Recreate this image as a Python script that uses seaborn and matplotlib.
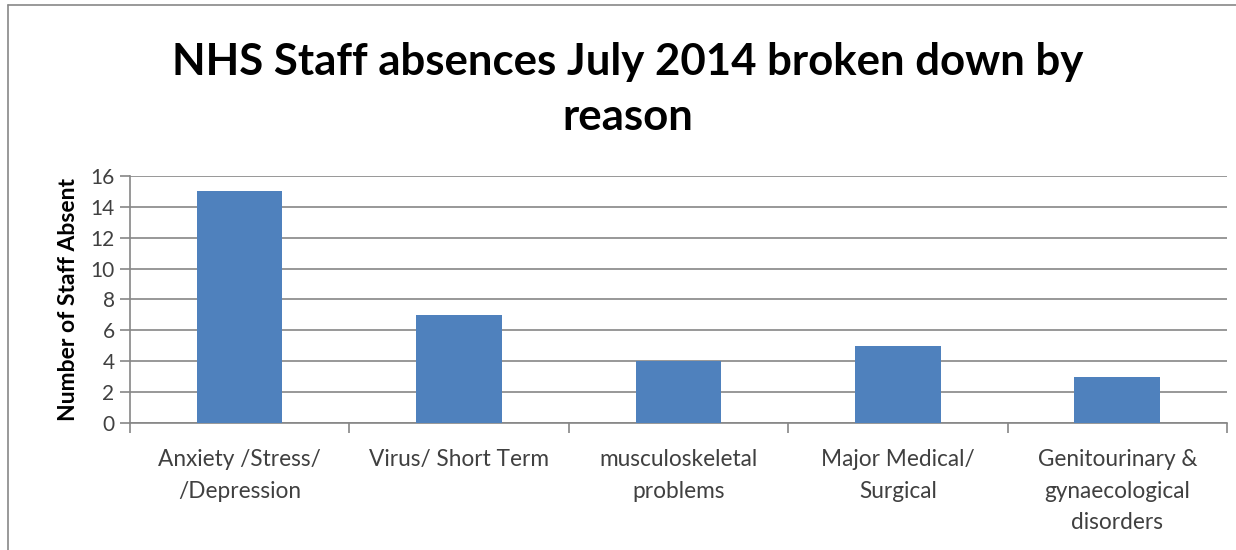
import matplotlib
matplotlib.use("Agg")
import matplotlib.pyplot as plt
from matplotlib.lines import Line2D
import seaborn as sns
import pandas as pd

categories = ["Anxiety /Stress/\n/Depression", "Virus/ Short Term",
              "musculoskeletal\nproblems", "Major Medical/\nSurgical",
              "Genitourinary &\ngynaecological\ndisorders"]
values = [15, 7, 4, 5, 3]
yticks = [0, 2, 4, 6, 8, 10, 12, 14, 16]

sns.set_theme(style="white")
plt.rcParams['font.family'] = ['Lato', 'DejaVu Sans']

df = pd.DataFrame({"reason": categories, "count": values})

fig = plt.figure(figsize=(12.36, 5.5), dpi=100)
ax = fig.add_axes([0.105, 0.231, 0.8877, 0.449])

sns.barplot(data=df, x="reason", y="count", color="#4F81BD", width=0.39,
            saturation=1, ax=ax, zorder=3, linewidth=0)

ax.set_ylim(0, 16)
ax.set_yticks(yticks)
ax.set_xlim(-0.5, len(categories) - 0.5)
ax.yaxis.grid(True, color="#868686", linewidth=1.2, zorder=0)
ax.xaxis.grid(False)
for s in ["top", "right"]:
    ax.spines[s].set_visible(False)
ax.spines["left"].set_color("#868686")
ax.spines["bottom"].set_color("#868686")
ax.spines["left"].set_linewidth(1.2)
ax.spines["bottom"].set_linewidth(1.2)

ax.tick_params(axis="y", which="major", left=True, length=7, width=1.2,
               color="#868686", labelsize=15, labelcolor="#404040", pad=4)
ax.set_xticks(range(len(categories)))
ax.set_xticklabels(categories)
ax.tick_params(axis="x", which="major", bottom=False, labelsize=16.3,
               labelcolor="#404040", pad=13)
ax.set_xticks([i - 0.5 for i in range(len(categories) + 1)], minor=True)
ax.tick_params(axis="x", which="minor", bottom=True, length=7, width=1.2,
               color="#868686")
for lbl in ax.get_xticklabels():
    lbl.set_verticalalignment("top")
    lbl.set_linespacing(1.62)

ax.set_xlabel("")
ax.set_ylabel("Number of Staff Absent", fontsize=16.5, fontweight="bold",
              color="black", labelpad=8)

fig.text(0.508, 0.837, "NHS Staff absences July 2014 broken down by\nreason",
         ha="center", va="center", fontsize=31.5, fontweight="bold",
         color="black", linespacing=1.45)

fig.add_artist(Line2D([0.0065, 1.0], [0.991, 0.991], transform=fig.transFigure,
                      color="#888888", linewidth=1.2))
fig.add_artist(Line2D([0.0065, 0.0065], [0.0, 0.991], transform=fig.transFigure,
                      color="#888888", linewidth=1.2))

fig.savefig("out.png", dpi=100, facecolor="white")
